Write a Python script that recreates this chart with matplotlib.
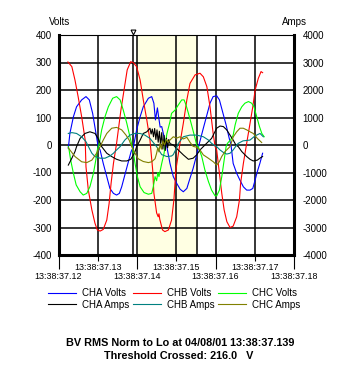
import matplotlib
matplotlib.use("Agg")
import matplotlib.pyplot as plt
from matplotlib.ticker import FixedLocator

plt.rcParams['font.family'] = ['Liberation Sans', 'DejaVu Sans']
plt.rcParams['axes.unicode_minus'] = False

# time axis: milliseconds after 13:38:37.12
tick_ms_major = [0, 20, 40, 60]
tick_ms_minor = [10, 30, 50]
tick_labels_major = ["13:38:37.12", "13:38:37.14", "13:38:37.16", "13:38:37.18"]
tick_labels_minor = ["13:38:37.13", "13:38:37.15", "13:38:37.17"]
cursor_ms = 19.0
event_start_ms = 20.0
event_end_ms = 35.36

# CHA Volts (blue)
cha_v_t = [2.5, 2.9, 3.8, 4.6, 5.9, 7.0, 7.85, 8.7, 9.55, 10.1, 10.6, 11.4, 12.3, 13.1, 14.0, 14.8,
           15.5, 16.1, 16.9, 17.8, 18.5, 19.1, 19.9, 20.8, 21.6, 22.9, 23.75, 24.3, 24.7, 25.2, 25.5,
           25.9, 26.3, 26.7, 27.1, 27.6, 28.4, 29.25, 30.1, 31.0, 31.8, 32.7, 33.5, 34.3, 35.2, 35.9,
           36.9, 37.8, 38.6, 39.4, 40.3, 41.0, 41.8, 42.7, 43.5, 43.95, 44.5, 45.4, 46.2, 47.1, 47.95,
           48.8, 49.5, 50.1, 50.65, 51.3, 52.0]
cha_v = [-12, 42, 103, 139, 164, 176, 164, 115, 42, -6, -18, -67, -115, -158, -176, -182,
         -176, -152, -109, -61, -24, -6, 55, 103, 139, 170, 176, 152, 91, 135, 103,
         65, 67, 42, 18, -6, -67, -115, -139, -161, -170, -158, -121, -85, -36, 6,
         61, 109, 152, 176, 179, 164, 121, 73, 24, 0, -67, -103, -127, -152, -164,
         -164, -158, -127, -97, -67, -30]

# CHB Volts (red)
chb_v_t = [2.4, 3.4, 4.2, 5.0, 5.9, 6.8, 7.0, 7.6, 8.5, 9.3, 9.9, 10.6, 11.4, 12.3, 12.9, 13.4, 14.0,
           14.8, 15.9, 16.7, 17.5, 18.4, 19.1, 19.9, 20.8, 21.6, 22.5, 23.3, 24.0, 24.3, 25.0, 25.4,
           25.6, 25.8, 26.5, 27.1, 28.0, 28.8, 29.4, 29.9, 30.96, 31.8, 32.7, 33.5, 34.8, 36.05, 36.9,
           37.8, 38.6, 39.4, 39.9, 40.3, 41.0, 41.6, 42.2, 42.9, 43.7, 44.5, 45.4, 46.1, 46.4, 47.1,
           47.8, 48.8, 49.5, 50.1, 50.9, 51.6, 52.0]
chb_v = [302, 285, 236, 176, 103, 18, -79, -164, -236, -285, -309, -313, -307, -273, -212, -139, -67,
         6, 127, 200, 273, 303, 299, 285, 236, 164, 91, 18, -91, -175, -247, -261,
         -250, -270, -309, -315, -309, -273, -200, -91, 7, 79, 164, 224, 255, 261, 248,
         212, 139, 42, -6, -18, -103, -176, -236, -279, -300, -295, -261, -200, -139, -67,
         -6, 79, 139, 200, 242, 267, 263]

# CHC Volts (green)
chc_v_t = [2.5, 2.7, 3.1, 3.8, 4.5, 5.5, 6.3, 7.2, 8.0, 8.9, 9.5, 9.9, 10.4, 11.0, 11.85, 12.7, 13.8,
           14.8, 15.7, 16.5, 17.4, 18.2, 18.8, 19.1, 19.5, 20.1, 20.8, 21.8, 22.9, 23.75, 24.15, 24.6,
           25.0, 25.3, 25.6, 26.3, 26.9, 27.6, 28.4, 28.8, 29.7, 30.5, 31.4, 32.0, 32.5, 33.1, 33.9,
           34.8, 35.2, 35.6, 36.5, 37.3, 38.2, 39.0, 39.9, 40.3, 41.0, 41.6, 42.2, 42.7, 43.0, 43.9,
           44.5, 45.0, 45.8, 46.7, 47.5, 48.4, 49.2, 49.8, 50.5, 51.2, 51.8, 52.4]
chc_v = [-6, -18, -55, -103, -145, -170, -182, -176, -152, -103, -55, -18, 6, 55, 103, 139, 170,
         176, 164, 127, 79, 30, -6, -30, -67, -115, -152, -173, -179, -176, -152, -115,
         -130, -100, -115, -67, -30, 40, 85, 115, 127, 145, 164, 164, 145, 115, 73,
         24, 0, -6, -42, -91, -133, -164, -185, -185, -164, -115, -55, -6, 5, 20,
         36, 73, 115, 139, 152, 158, 152, 139, 103, 67, 42, 30]

# CHA Amps (black)
cha_a_t = [2.5, 3.4, 4.2, 4.6, 5.5, 6.75, 8.0, 9.3, 10.1, 11.0, 12.3, 13.55, 14.8, 16.1, 17.4, 18.4,
           19.1, 19.5, 19.9, 20.8, 21.6, 22.5, 23.3, 23.6, 23.9, 24.2, 24.5, 24.8, 25.1, 25.4, 25.7,
           26.0, 26.3, 26.6, 26.9, 27.2, 27.5, 27.8, 28.1, 28.4, 29.25, 30.5, 31.8, 33.1, 34.3, 35.2,
           36.05, 37.3, 39.0, 40.3, 41.15, 42.0, 42.85, 43.7, 44.5, 45.2, 45.8, 46.7, 47.95, 48.8,
           49.6, 50.65, 51.3, 52.0]
cha_a = [-730, -480, -240, -60, 240, 420, 480, 420, 240, -60, -300, -420, -520, -580, -580, -520,
         -360, -240, -60, 180, 420, 480, 610, 400, 580, 300, 600, 200, 550, 100, 500,
         0, 450, -150, 350, -200, 250, -100, 200, 50, 0, -180, -360, -520, -480, -360,
         -180, 0, 240, 610, 690, 670, 550, 360, 180, 0, -60, -240, -420, -520,
         -580, -550, -480, -420]

# CHB Amps (teal)
chb_a_t = [2.5, 3.4, 4.6, 5.9, 7.0, 7.85, 8.5, 9.3, 10.6, 11.85, 13.1, 14.0, 14.8, 15.7, 16.9, 18.2,
           19.5, 20.8, 22.0, 23.3, 25.0, 26.3, 27.6, 28.8, 29.25, 30.1, 30.5, 31.8, 33.5, 35.2, 36.9,
           38.2, 39.0, 40.3, 41.15, 42.0, 42.85, 43.7, 44.5, 45.4, 45.8, 47.0, 48.8, 50.06, 51.34, 52.18]
chb_a = [420, 450, 420, 300, 120, -120, -300, -420, -480, -480, -400, -300, -180, -60, 180, 360,
         420, 420, 360, 240, -60, -350, -420, -400, -350, -100, 50, 300, 360, 360, 300,
         180, 60, -60, -180, -270, -330, -300, -180, 0, 60, 150, 180, 330, 420, 300]

# CHC Amps (olive)
chc_a_t = [2.5, 2.9, 4.2, 5.9, 7.2, 8.5, 9.7, 10.6, 11.4, 12.3, 13.55, 14.8, 16.1, 17.2, 18.0, 18.65,
           19.5, 20.3, 21.6, 22.9, 23.75, 24.6, 25.0, 25.3, 25.6, 25.9, 26.2, 26.6, 27.0, 27.5, 28.0,
           28.4, 29.25, 30.1, 30.96, 31.8, 32.7, 33.5, 34.3, 35.2, 36.05, 36.9, 38.17, 39.44, 40.31,
           40.97, 41.58, 42.42, 43.69, 44.54, 45.4, 46.24, 47.08, 47.95, 48.79, 49.63, 50.65, 51.77]
chc_a = [-100, -180, -420, -610, -640, -550, -300, -60, 180, 420, 610, 640, 550, 360, 180, -60,
         -300, -500, -600, -640, -610, -500, -300, -100, -250, 50, -150, 150, 0, 200, 100,
         180, 300, 250, 300, 220, 280, 100, -50, -80, -180, -360, -480, -610, -730,
         -610, -420, -240, -60, 300, 480, 610, 610, 550, 480, 420, 240, 90]

fig = plt.figure(figsize=(3.6, 3.81), dpi=100)
ax = fig.add_axes([58.5 / 360, 1 - 255 / 381, (294 - 58.5) / 360, 220 / 381])
ax2 = ax.twinx()

ax.axvspan(event_start_ms, event_end_ms, color='#FFFFE3', zorder=0, lw=0)

lw = 0.8
l1, = ax.plot(cha_v_t, cha_v, color='#0000FF', lw=lw, label='CHA Volts', zorder=3)
l2, = ax.plot(chb_v_t, chb_v, color='#FF0000', lw=lw, label='CHB Volts', zorder=3)
l3, = ax.plot(chc_v_t, chc_v, color='#00FF00', lw=lw, label='CHC Volts', zorder=3)
l4, = ax2.plot(cha_a_t, cha_a, color='#000000', lw=lw, label='CHA Amps')
l5, = ax2.plot(chb_a_t, chb_a, color='#008080', lw=lw, label='CHB Amps')
l6, = ax2.plot(chc_a_t, chc_a, color='#808000', lw=lw, label='CHC Amps')

ax.set_xlim(0, 60)
ax.set_ylim(-400, 400)
ax2.set_ylim(-4000, 4000)

ax.set_yticks(range(-400, 401, 100))
ax2.set_yticks(range(-4000, 4001, 1000))
ax.tick_params(axis='y', length=0, pad=5, labelsize=7)
ax2.tick_params(axis='y', length=0, pad=6, labelsize=7)

ax.xaxis.set_major_locator(FixedLocator(tick_ms_major))
ax.xaxis.set_minor_locator(FixedLocator(tick_ms_minor))
ax.set_xticklabels(tick_labels_major)
ax.set_xticklabels(tick_labels_minor, minor=True)
ax.tick_params(axis='x', which='major', length=10, width=0.8, pad=2.2, labelsize=6.4)
ax.tick_params(axis='x', which='minor', length=4.3, width=0.8, pad=1.2, labelsize=6.4)

ax.grid(True, which='both', axis='x', color='black', lw=1.1, zorder=1)
ax.grid(True, which='major', axis='y', color='black', lw=1.1, zorder=1)
ax.set_axisbelow(True)
ax.axvline(cursor_ms, color='black', lw=1.1, zorder=1)
ax.axvline(event_end_ms, color='black', lw=1.1, zorder=1)
ax.plot([cursor_ms], [1.015], transform=ax.get_xaxis_transform(), marker='v',
        ms=3.5, mfc='white', mec='black', mew=0.8, clip_on=False)

for s in ['left', 'bottom']:
    ax.spines[s].set_linewidth(2.2)
ax.spines['top'].set_linewidth(0.8)
ax.spines['right'].set_visible(False)
for s in ['left', 'top', 'bottom']:
    ax2.spines[s].set_visible(False)
ax2.spines['right'].set_linewidth(2.2)

fig.text(59.5 / 360, 1 - 22 / 381, 'Volts', ha='center', va='center', fontsize=7)
fig.text(294 / 360, 1 - 22 / 381, 'Amps', ha='center', va='center', fontsize=7)

fig.legend(handles=[l1, l4, l2, l5, l3, l6], ncol=3, loc='center',
           bbox_to_anchor=(174 / 360, 1 - 299 / 381), frameon=False, fontsize=7,
           handlelength=2.9, handletextpad=0.6, columnspacing=0.35, labelspacing=0.12,
           borderpad=0, borderaxespad=0)

fig.text(0.5, 1 - 343.3 / 381, 'BV RMS Norm to Lo at 04/08/01 13:38:37.139', ha='center',
         va='center', fontsize=7.8, fontweight='bold')
fig.text(0.495, 1 - 356 / 381, 'Threshold Crossed: 216.0   V', ha='center', va='center',
         fontsize=7.8, fontweight='bold')

fig.savefig('out.png', dpi=100, facecolor='white')
